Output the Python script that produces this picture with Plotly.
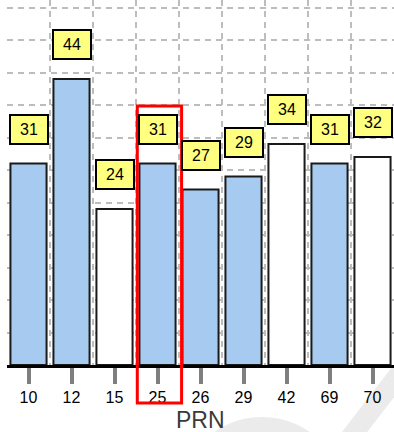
import math
import plotly.graph_objects as go

# PRN satellites and their signal values
prn = ["10", "12", "15", "25", "26", "29", "42", "69", "70"]
values = [31, 44, 24, 31, 27, 29, 34, 31, 32]
in_use = [True, True, False, True, True, True, False, True, False]
highlighted = "25"

BLUE = "#A6CAF0"
WHITE = "#FFFFFF"
LABEL_BG = "#FFFF80"
FONT = "Liberation Sans, Arial, sans-serif"

idx = list(range(len(prn)))
colors = [BLUE if u else WHITE for u in in_use]

fig = go.Figure()
fig.add_trace(go.Bar(
    x=idx,
    y=values,
    width=0.84,
    marker=dict(color=colors, line=dict(color="#1a1a1a", width=2)),
    hoverinfo="skip",
))

# yellow value boxes above each bar
for i, v in zip(idx, values):
    fig.add_annotation(
        x=i, y=v, xref="x", yref="y",
        text=str(v), showarrow=False,
        yanchor="bottom", yshift=19,
        width=34, height=25,
        bgcolor=LABEL_BG, bordercolor="#000000", borderwidth=2, borderpad=1,
        font=dict(family=FONT, size=16, color="#000000"),
    )

# axis caption under the tick labels
fig.add_annotation(
    x=0.5, y=0, xref="paper", yref="paper",
    text="PRN", showarrow=False, xanchor="center", yanchor="bottom",
    yshift=-70, valign="bottom",
    font=dict(family=FONT, size=23, color="#3a3a3a"),
)

# red frame around the highlighted satellite (paper coords from its index)
n = len(prn)
h = prn.index(highlighted)
fig.add_shape(
    type="rect", xref="paper", yref="paper",
    x0=(h + 0.5 - 0.47) / n, x1=(h + 0.5 + 0.56) / n,
    y0=-38 / 365, y1=259 / 365,
    line=dict(color="#FF0000", width=3), fillcolor="rgba(0,0,0,0)",
    layer="above",
)

# faint watermark strokes in the lower right corner (pixel -> paper)
def px(xp):
    return (xp - 7) / 387

def py(yp):
    return (365 - yp) / 365

WATERMARK = "#EBEBEB"
cx, cy, r = 262, 501, 72
pts = []
for k in range(0, 181, 6):
    a = math.radians(180 + k)
    pts.append((px(cx + r * math.cos(a)), py(cy + r * math.sin(a))))
arc = "M" + "L".join(f"{x:.4f},{y:.4f}" for x, y in pts)
fig.add_shape(
    type="path", xref="paper", yref="paper", path=arc,
    line=dict(color=WATERMARK, width=24),
    layer="below",
)
fig.add_shape(
    type="line", xref="paper", yref="paper",
    x0=px(343), y0=py(447), x1=px(410), y1=py(360),
    line=dict(color=WATERMARK, width=20),
    layer="below",
)

GRID = "#BDBDBD"
fig.update_xaxes(
    range=[-0.5, n - 0.5],
    tickmode="array", tickvals=idx, ticktext=prn,
    ticks="outside", ticklen=16, tickwidth=4, tickcolor="#7F7F7F",
    tickfont=dict(family=FONT, size=16, color="#000000"),
    showline=True, linecolor="#000000", linewidth=3,
    showgrid=False, zeroline=False,
    minor=dict(tickvals=[i - 0.5 for i in range(n + 1)], showgrid=True,
               gridcolor=GRID, griddash="6px,5px", gridwidth=1.5, ticks=""),
    fixedrange=True,
)
fig.update_yaxes(
    range=[0, 365 / 6.5],
    dtick=5, showticklabels=False, ticks="",
    showgrid=True, gridcolor=GRID, griddash="6px,5px", gridwidth=1.5,
    zeroline=False, showline=False, fixedrange=True,
)

fig.update_layout(
    width=394, height=432,
    margin=dict(l=7, r=0, t=0, b=67),
    paper_bgcolor="#FFFFFF", plot_bgcolor="#FFFFFF",
    showlegend=False, bargap=0.16,
)

fig.write_html("out.html", config={"displayModeBar": False})
